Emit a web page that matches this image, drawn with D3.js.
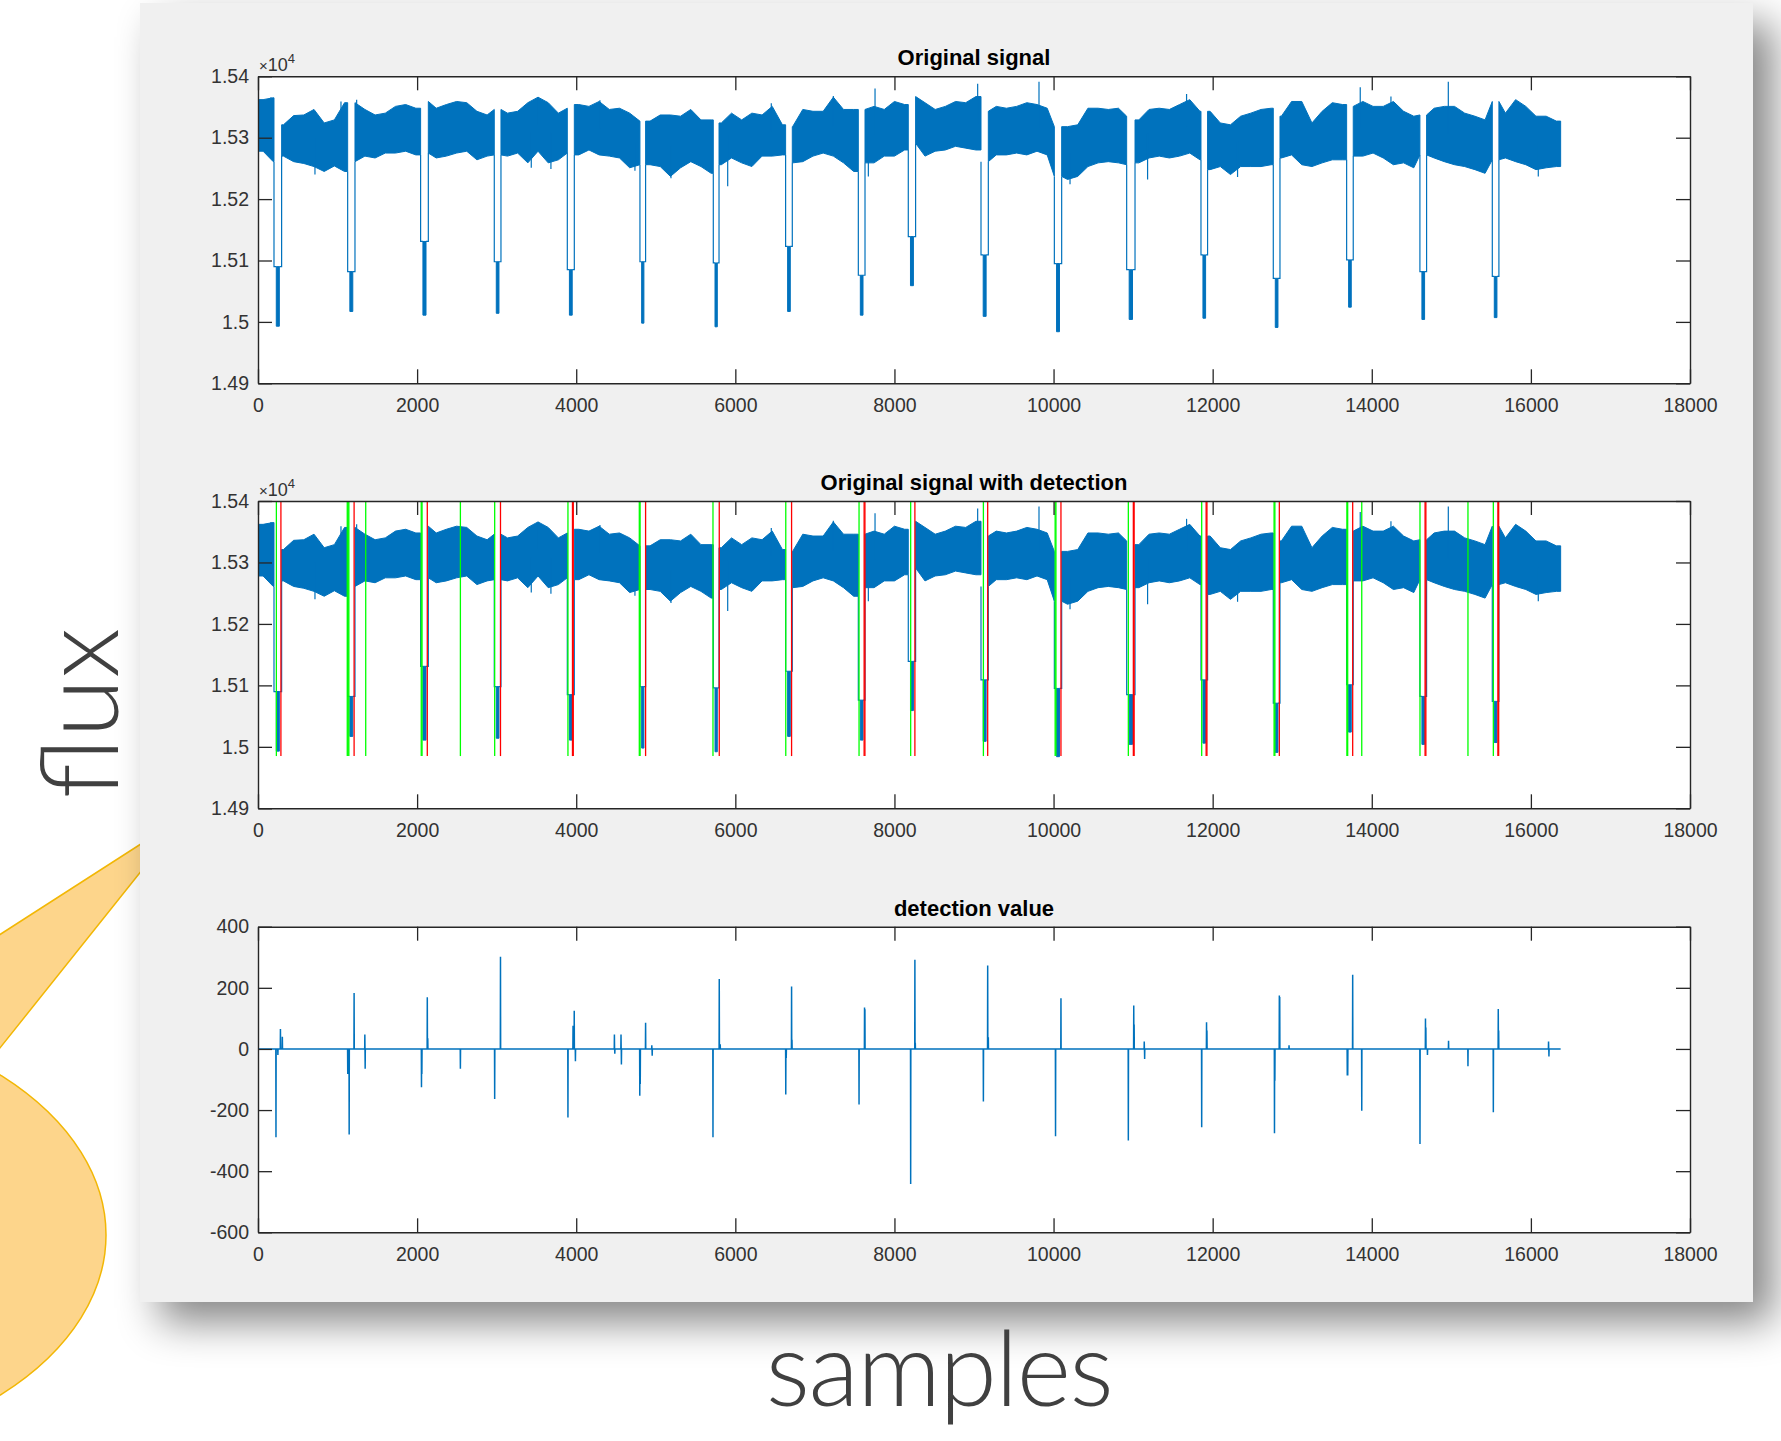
<!DOCTYPE html>
<html><head><meta charset="utf-8">
<script src="https://cdn.jsdelivr.net/npm/d3@7"></script>
<style>
html,body{margin:0;padding:0;background:#fff;}
svg{display:block;}
.tick text, .lbl{font-family:"Liberation Sans",Arial,Helvetica,sans-serif;}
</style></head><body>
<svg id="c" width="1781" height="1441"></svg>
<script>
// ---------------- DATA ----------------
const xTicks = [0,2000,4000,6000,8000,10000,12000,14000,16000,18000];
const fluxTicks = [14900,15000,15100,15200,15300,15400];
const detTicks = [-600,-400,-200,0,200,400];
const titles = ["Original signal","Original signal with detection","detection value"];
const axisLabelX = "samples";
const axisLabelY = "flux";
const signalLength = 16374;
const binSize = 128;
// upper / lower edge of the noisy flux band, one value per 128-sample bin
const bandHi = [15362,15365,15321,15336,15337,15346,15324,15329,15357,15357,15346,15337,15340,15351,15354,15348,
15359,15348,15354,15359,15357,15343,15337,15346,15340,15343,15357,15366,15357,15340,15348,15354,
15351,15359,15346,15348,15340,15327,15327,15337,15337,15335,15346,15329,15329,15324,15340,15329,
15340,15337,15351,15321,15318,15346,15343,15343,15366,15346,15346,15346,15351,15346,15359,15354,
15367,15357,15346,15351,15359,15357,15367,15343,15351,15348,15351,15357,15354,15348,15318,15318,
15321,15348,15348,15346,15348,15335,15329,15346,15348,15346,15354,15362,15343,15343,15324,15321,
15335,15340,15346,15348,15335,15359,15359,15324,15343,15357,15354,15351,15359,15351,15351,15359,
15343,15335,15337,15348,15351,15351,15340,15335,15329,15359,15340,15362,15351,15335,15335,15327];
const bandLo = [15278,15261,15270,15261,15258,15253,15245,15254,15245,15261,15270,15267,15275,15275,15278,15272,
15275,15267,15270,15275,15278,15264,15270,15272,15270,15275,15259,15278,15259,15264,15275,15272,
15280,15272,15270,15267,15251,15256,15256,15253,15237,15251,15261,15253,15242,15256,15267,15259,
15253,15270,15270,15272,15259,15261,15270,15275,15270,15259,15245,15259,15259,15270,15270,15280,
15291,15270,15278,15280,15286,15283,15280,15261,15272,15272,15275,15272,15278,15272,15237,15232,
15237,15253,15259,15261,15259,15256,15259,15267,15270,15267,15270,15275,15264,15248,15253,15240,
15253,15253,15253,15256,15267,15272,15256,15253,15259,15264,15264,15270,15270,15275,15267,15256,
15259,15251,15272,15267,15261,15256,15253,15248,15242,15264,15267,15261,15256,15248,15251,15253];
// isolated noise spikes beyond the band
const spikeSample = [163,716,1043,1240,3435,3523,3682,4298,4738,5191,5904,6452,7232,7672,7756,9046,9817,10207,11182,11672,12313,13855,14241,14962,16093];
const spikeValue  = [15366,15240,15359,15362,15251,15366,15249,15361,15246,15234,15221,15356,15368,15237,15380,15388,15391,15224,15232,15371,15236,15382,15367,15391,15237];
// transits (dips)
const dipStart = [201,1127,2044,2970,3888,4801,5723,6632,7546,8174,9088,10010,10919,11853,12762,13684,14605,15515];
const dipEnd   = [297,1219,2141,3054,3976,4872,5795,6716,7630,8266,9180,10102,11024,11936,12846,13767,14689,15598];
const dipTop   = [15090,15082,15131,15098,15085,15098,15096,15123,15076,15139,15109,15095,15085,15109,15071,15101,15082,15074];
const dipMin   = [14993,15017,15011,15014,15011,14998,14992,15017,15011,15059,15009,14984,15004,15006,14991,15024,15004,15007];
// detection markers
const greenDetections = [231,1122,1132,1142,1354,2052,2062,2544,2975,3896,4793,4803,5719,6634,7555,8204,9118,10020,10030,10940,11862,12772,12782,13687,13697,13874,14606,15209,15528];
const redDetections   = [288,1208,2128,3048,3953,3963,4872,5798,6707,7619,7629,8257,9172,10093,11003,11013,11918,11928,12838,13760,14670,14680,15585,15595];
const markerLow = 14985, markerHigh = 15400;
// detection value spikes
const detSample = [226,250,282,306,1128,1135,1146,1208,1343,1347,2055,2060,2128,2134,2544,2975,3048,3896,3960,3975,3990,4480,4485,4563,4568,4799,4805,4872,4950,4955,5719,5798,5810,6634,6640,6707,6712,7555,7624,7629,8204,8257,8262,9118,9172,9180,10025,10093,10940,11008,11013,11140,11145,11862,11923,11928,12777,12782,12838,12843,12960,13692,13698,13760,13874,14606,14675,14680,14700,14965,15209,15528,15590,15595,16222,16227];
const detValue  = [-289,-20,65,40,-82,-82,-280,183,47,-65,-125,-82,169,35,-65,-164,302,-224,76,125,-40,47,-16,47,-51,-153,-115,86,12,-22,-289,229,15,-149,-30,204,30,-182,136,130,-442,292,20,-172,273,38,-286,166,-300,142,80,24,-33,-256,87,60,-276,-104,175,170,12,-87,-87,243,-202,-311,100,70,-20,27,-57,-207,131,60,24,-25];

// ---------------- LAYOUT ----------------
const BLUE = "#0072BD", AX = "#262626";
const svg = d3.select("#c");
const defs = svg.append("defs");
const f = defs.append("filter").attr("id","sh").attr("x","-10%").attr("y","-10%").attr("width","125%").attr("height","125%");
f.append("feDropShadow").attr("dx",20).attr("dy",20).attr("stdDeviation",21).attr("flood-color","#000").attr("flood-opacity",0.48);

// speech bubble decoration
const bub = svg.append("g");
bub.append("ellipse").attr("cx",-250).attr("cy",1235).attr("rx",356).attr("ry",225)
  .attr("fill","#fdd58b").attr("stroke","#f2b705").attr("stroke-width",1.5);
bub.append("path").attr("d","M186,815 L-200,1063 L-60,1123 Z")
  .attr("fill","#fdd58b").attr("stroke","#f2b705").attr("stroke-width",1.5);

// gray figure panel
svg.append("rect").attr("x",140).attr("y",3).attr("width",1613).attr("height",1299)
  .attr("fill","#f0f0f0").attr("filter","url(#sh)");

const L = 258, R = 1690;
const x = d3.scaleLinear().domain([0,18000]).range([L,R]);
const panels = [{top:76.3,bottom:383.3},{top:501,bottom:808.3},{top:926.7,bottom:1232.3}];

function drawFrame(g, y, yTicks, fmt, p, title, exp){
  g.append("rect").attr("x",L).attr("y",p.top).attr("width",R-L).attr("height",p.bottom-p.top).attr("fill","#fff");
  return function(){
    const ax = (a, tr) => {
      const gg = g.append("g").attr("transform",tr).call(a);
      gg.select(".domain").attr("stroke",AX).attr("stroke-width",1.4);
      gg.selectAll(".tick line").attr("stroke",AX).attr("stroke-width",1.3);
      gg.selectAll(".tick text").attr("fill","#333").style("font-size","19.5px");
      return gg;
    };
    ax(d3.axisBottom(x).tickValues(xTicks).tickSize(-14).tickSizeOuter(0).tickPadding(15).tickFormat(d=>String(d)), `translate(0,${p.bottom})`);
    ax(d3.axisTop(x).tickValues(xTicks).tickSize(-14).tickSizeOuter(0).tickFormat(""), `translate(0,${p.top})`);
    ax(d3.axisLeft(y).tickValues(yTicks).tickSize(-14).tickSizeOuter(0).tickPadding(9).tickFormat(fmt), `translate(${L},0)`);
    ax(d3.axisRight(y).tickValues(yTicks).tickSize(-14).tickSizeOuter(0).tickFormat(""), `translate(${R},0)`);
    g.append("text").attr("class","lbl").attr("x",(L+R)/2).attr("y",p.top-11).attr("text-anchor","middle")
      .style("font-size","22px").style("font-weight","bold").attr("fill","#000").text(title);
    if(exp){
      const t = g.append("text").attr("class","lbl").attr("x",L+1).attr("y",p.top-5).attr("fill","#333").style("font-size","18px");
      t.append("tspan").text("\u00d7").style("font-size","15px");
      t.append("tspan").text("10");
      t.append("tspan").text("4").attr("dy",-8).style("font-size","13px");
    }
  };
}

function clip(id,p){
  defs.append("clipPath").attr("id",id).append("rect").attr("x",L).attr("y",p.top).attr("width",R-L).attr("height",p.bottom-p.top);
}

const binOf = s => Math.max(0, Math.min(bandHi.length-1, Math.floor(s/binSize)));
function bandSegments(){
  const bounds=[0];
  dipStart.forEach((s,i)=>bounds.push(s, dipEnd[i]));
  bounds.push(signalLength);
  const segs=[];
  for(let k=0;k<bounds.length;k+=2){
    const a=bounds[k], b=bounds[k+1];
    const pts=[{s:a,hi:bandHi[binOf(a)],lo:bandLo[binOf(a)]}];
    bandHi.forEach((h,i)=>{const c=i*binSize+binSize/2; if(c>a&&c<b) pts.push({s:c,hi:h,lo:bandLo[i]});});
    pts.push({s:b,hi:bandHi[binOf(b-1)],lo:bandLo[binOf(b-1)]});
    segs.push(pts);
  }
  return segs;
}

function drawSignal(g, y){
  const area = d3.area().x(d=>x(d.s)).y0(d=>y(d.lo)).y1(d=>y(d.hi));
  bandSegments().forEach(seg=>{
    g.append("path").attr("d",area(seg)).attr("fill",BLUE).attr("stroke",BLUE).attr("stroke-width",1).attr("stroke-linejoin","round");
  });
  spikeSample.forEach((s,i)=>{
    const mid=(bandHi[binOf(s)]+bandLo[binOf(s)])/2;
    g.append("line").attr("x1",x(s)).attr("x2",x(s)).attr("y1",y(mid)).attr("y2",y(spikeValue[i]))
      .attr("stroke",BLUE).attr("stroke-width",1.2);
  });
  const line = d3.line().x(d=>x(d[0])).y(d=>y(d[1]));
  dipStart.forEach((s,i)=>{
    const e=dipEnd[i], w=e-s, bl=s+w*0.3, br=e-w*0.3;
    const a0=bandLo[binOf(s)], a1=bandLo[binOf(e)];
    g.append("path").attr("d",line([[s,a0],[s,dipTop[i]],[bl,dipTop[i]]])).attr("fill","none").attr("stroke",BLUE).attr("stroke-width",1.2);
    g.append("path").attr("d",line([[br,dipTop[i]],[e,dipTop[i]],[e,a1]])).attr("fill","none").attr("stroke",BLUE).attr("stroke-width",1.2);
    g.append("path").attr("d",d3.area().x(d=>x(d)).y0(y(dipMin[i])).y1(y(dipTop[i]))([bl,br]))
      .attr("fill",BLUE).attr("stroke",BLUE).attr("stroke-width",1);
  });
}

const fmtFlux = d => String(+(d/1e4).toFixed(2));

// panel 1
{
  const p=panels[0]; const y=d3.scaleLinear().domain([14900,15400]).range([p.bottom,p.top]);
  const g=svg.append("g"); const fin=drawFrame(g,y,fluxTicks,fmtFlux,p,titles[0],true);
  clip("c1",p); const pg=g.append("g").attr("clip-path","url(#c1)");
  drawSignal(pg,y); fin();
}
// panel 2
{
  const p=panels[1]; const y=d3.scaleLinear().domain([14900,15400]).range([p.bottom,p.top]);
  const g=svg.append("g"); const fin=drawFrame(g,y,fluxTicks,fmtFlux,p,titles[1],true);
  clip("c2",p); const pg=g.append("g").attr("clip-path","url(#c2)");
  drawSignal(pg,y);
  pg.selectAll(".gm").data(greenDetections).join("line").attr("class","gm")
    .attr("x1",d=>x(d)).attr("x2",d=>x(d)).attr("y1",y(markerLow)).attr("y2",y(markerHigh))
    .attr("stroke","#00ff00").attr("stroke-width",1.3);
  pg.selectAll(".rm").data(redDetections).join("line").attr("class","rm")
    .attr("x1",d=>x(d)).attr("x2",d=>x(d)).attr("y1",y(markerLow)).attr("y2",y(markerHigh))
    .attr("stroke","#ff0000").attr("stroke-width",1.3);
  fin();
}
// panel 3
{
  const p=panels[2]; const y=d3.scaleLinear().domain([-600,400]).range([p.bottom,p.top]);
  const g=svg.append("g"); const fin=drawFrame(g,y,detTicks,d=>String(d),p,titles[2],false);
  clip("c3",p); const pg=g.append("g").attr("clip-path","url(#c3)");
  const pts=[[0,0]];
  detSample.forEach((s,i)=>{pts.push([s-2,0],[s,detValue[i]],[s+2,0]);});
  pts.push([signalLength,0]);
  pg.append("path").attr("d",d3.line().x(d=>x(d[0])).y(d=>y(d[1]))(pts))
    .attr("fill","none").attr("stroke",BLUE).attr("stroke-width",1.5);
  fin();
}

// big outer labels
svg.append("text").attr("transform","translate(118,713) rotate(-90)").attr("text-anchor","middle")
  .style("font-family","Lato, 'Open Sans', sans-serif").style("font-weight",300).style("font-size","108px")
  .attr("fill","#404040").text(axisLabelY);
svg.append("text").attr("x",939).attr("y",1406).attr("text-anchor","middle")
  .style("font-family","Lato, 'Open Sans', sans-serif").style("font-weight",300).style("font-size","104px")
  .style("letter-spacing","-1.5px").attr("fill","#404040").text(axisLabelX);
</script></body></html>
